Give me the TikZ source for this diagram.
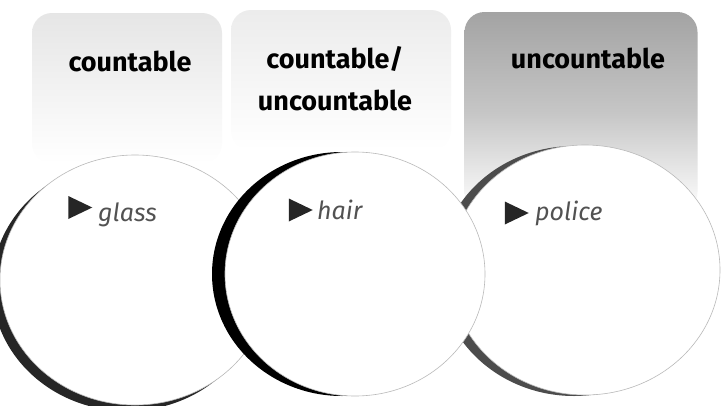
\documentclass[tikz,border=0pt]{standalone}
\usepackage{fontspec}
\setmainfont{Fira Sans}
\usetikzlibrary{positioning,shapes.geometric,calc}

\begin{document}
\begin{tikzpicture}[
  x=1pt, y=-1pt,
  head/.style={font=\fontsize{27}{42}\selectfont\bfseries, align=center, text=black, anchor=base, inner sep=0pt},
  band/.style={rectangle, rounded corners=20pt, inner sep=0pt, bottom color=white},
  disc/.style={ellipse, draw=gray!55, line width=0.6pt, fill=white, inner sep=0pt},
  rim/.style={ellipse, inner sep=0pt},
  tri/.style={isosceles triangle, isosceles triangle stretches, fill=black!85, inner sep=0pt, minimum width=23pt, minimum height=24pt},
  item/.style={font=\fontsize{25}{30}\selectfont\itshape, text=black!68, anchor=base west, inner sep=0pt}
]
\useasboundingbox[fill=white] (0,0) rectangle (724,405);
\clip (0,0) rectangle (724,405);
% ---- Shaded column heads ----
\node[band, top color=gray!20, minimum width=190pt, minimum height=150pt] (bl) at (127,88) {};
\node[band, top color=gray!15, minimum width=220pt, minimum height=140pt] (bm) at (341,80) {};
\node[band, top color=gray!72, middle color=gray!45, minimum width=233pt, minimum height=200pt] (br) at (581,112) {};
% ---- Column labels ----
\node[head] (lc) at (130,71) {countable};
\node[head] (lm) at (335,110) {countable/\\uncountable};
\node[head] (lu) at (588,68) {uncountable};
% ---- Circles (the middle one lies on top) ----
\node[rim, fill=black!85, minimum width=270pt, minimum height=250pt] (sg) at (127,286) {};
\node[disc, minimum width=270pt, minimum height=250pt] (cg) at (135,280) {};
\node[rim, fill=gray!60!black, minimum width=270pt, minimum height=250pt] (sp) at (574,271) {};
\node[disc, minimum width=270pt, minimum height=250pt] (cp) at (585,270) {};
\node[rim, fill=black, minimum width=260pt, minimum height=244pt] (sh) at (342,274) {};
\node[disc, minimum width=260pt, minimum height=244pt] (ch) at (355,274) {};
% ---- Items ----
\node[tri] (tg) at (75.5,207.5) {};
\node[item] (glass) at (98,221) {glass};
\node[tri] (th) at (296,210) {};
\node[item] (hair) at (317,219) {hair};
\node[tri] (tp) at (512,213) {};
\node[item] (police) at (535,220) {police};
\end{tikzpicture}
\end{document}
